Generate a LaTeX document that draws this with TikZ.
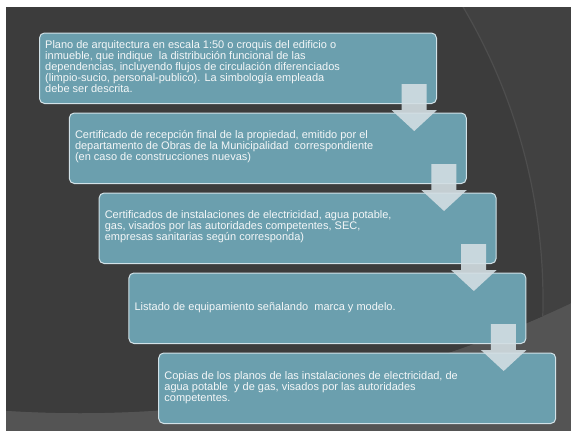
\documentclass[tikz,border=0pt]{standalone}
\usepackage{fontspec}
\setmainfont{Liberation Sans}
\usetikzlibrary{calc}
\definecolor{bgdark}{HTML}{3C3C3C}
\definecolor{bgright}{HTML}{414141}
\definecolor{bglight}{HTML}{545454}
\definecolor{arcline}{HTML}{4E4E4E}
\definecolor{boxfill}{HTML}{6B9FAE}
\definecolor{boxline}{HTML}{D2E2E8}
\definecolor{arrowfill}{HTML}{D3DEE3}
\definecolor{textcol}{HTML}{F4F7F8}
\tikzset{
  stepbox/.style={draw=boxline, line width=1pt, fill=boxfill, rounded corners=5pt,
    minimum width=397pt, minimum height=70.5pt, anchor=north west, inner sep=0pt},
  boxtext/.style={anchor=west, align=left, text=textcol, inner sep=0pt,
    font=\fontsize{11}{11}\selectfont},
  blockarrow/.style={fill=arrowfill, fill opacity=0.9, draw=none}
}
\begin{document}
\begin{tikzpicture}[x=1pt,y=-1pt]
\useasboundingbox (0,0) rectangle (571,431);
% background
\fill[white] (0,0) rectangle (571,431);
\begin{scope}
  \clip (6,7) rectangle (571,431);
  \fill[bglight] (0,0) rectangle (571,431);
  \begin{scope}
    \clip (80,-737) circle[radius=1150pt];
    \fill[bgright] (0,0) rectangle (571,431);
    \fill[bgdark] (-33.6,300) circle[radius=576.6pt];
    \draw[arcline, line width=1.2pt] (-33.6,300) circle[radius=576.6pt];
  \end{scope}
\end{scope}
% boxes
\node[stepbox] (b1) at (39,32.5) {};
\node[stepbox] (b2) at (68.8,112.5) {};
\node[stepbox] (b3) at (98.6,192.5) {};
\node[stepbox] (b4) at (128.4,272.5) {};
\node[stepbox] (b5) at (158.2,352.5) {};
% texts
\node[boxtext] (t1) at ($(b1.west)+(6,-1.5)$) {Plano de arquitectura en escala 1:50 o croquis del edificio o\\inmueble, que indique\ \ la distribución funcional de las\\dependencias, incluyendo flujos de circulación diferenciados\\(limpio-sucio, personal-publico). La simbología empleada\\debe ser descrita.};
\node[boxtext] (t2) at ($(b2.west)+(6,-1.5)$) {Certificado de recepción final de la propiedad, emitido por el\\departamento de Obras de la Municipalidad\ \ correspondiente\\(en caso de construcciones nuevas)};
\node[boxtext] (t3) at ($(b3.west)+(6,-1.5)$) {Certificados de instalaciones de electricidad, agua potable,\\gas, visados por las autoridades competentes, SEC,\\empresas sanitarias según corresponda)};
\node[boxtext] (t4) at ($(b4.west)+(6,-0.5)$) {Listado de equipamiento señalando\ \ marca y modelo.};
\node[boxtext] (t5) at ($(b5.west)+(6,-0.5)$) {Copias de los planos de las instalaciones de electricidad, de\\agua potable\ \ y de gas, visados por las autoridades\\competentes.};
% arrows
\foreach \b in {b1,b2,b3,b4}{
  \begin{scope}[shift={(\b.south east)}]
    \fill[blockarrow] (-35.5,-20) -- (-10.5,-20) -- (-10.5,6) -- (0,6) -- (-22.75,27)
      -- (-45.5,6) -- (-35.5,6) -- cycle;
  \end{scope}
}
\end{tikzpicture}
\end{document}
